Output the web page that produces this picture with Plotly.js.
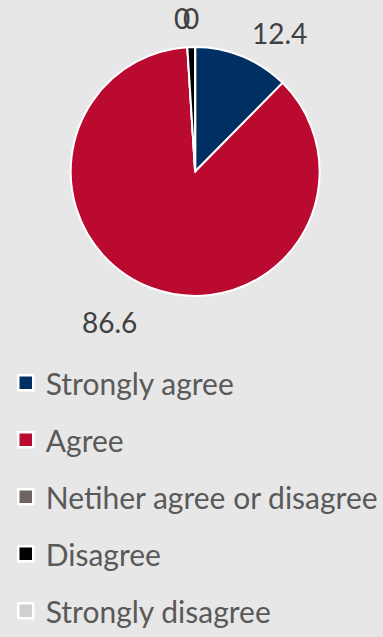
<!DOCTYPE html>
<html><head><meta charset="utf-8">
<script src="https://cdn.plot.ly/plotly-3.0.1.min.js"></script>
<style>html,body{margin:0;padding:0;background:#e7e7e7;}#c{width:383px;height:637px;}</style>
</head><body><div id="c"></div>
<script>
const categories = ["Strongly agree", "Agree", "Netiher agree or disagree", "Disagree", "Strongly disagree"];
const values = [12.4, 86.6, 0, 1, 0];
const labelText = ["12.4", "86.6", "0", "", "0"];
const colors = ["#003063", "#bb0a30", "#706462", "#000000", "#d2d0cf"];
// label anchor positions (paper coords) for data labels
const labelPos = [[0.731, 0.948], [0.287, 0.493], [0.476, 0.971], [null, null], [0.499, 0.971]];

const font = "Lato, 'Open Sans', sans-serif";
const traces = [{
  type: "pie",
  labels: categories,
  values: values,
  sort: false,
  direction: "clockwise",
  rotation: 0,
  marker: {colors: colors, line: {color: "#ffffff", width: 2}},
  textinfo: "none",
  hoverinfo: "label+value",
  showlegend: false,
  domain: {x: [0.183, 0.836], y: [0.534, 0.926]}
}];
categories.forEach((c, i) => {
  traces.push({
    type: "scatter", mode: "markers", x: [null], y: [null],
    name: c, legendgroup: "g" + i, showlegend: true,
    marker: {symbol: "square", size: 15, color: colors[i], line: {color: "#ffffff", width: 2.5}}
  });
});
const annotations = [];
labelText.forEach((t, i) => {
  if (t === "" || labelPos[i][0] === null) return;
  annotations.push({text: t, x: labelPos[i][0], y: labelPos[i][1], xref: "paper", yref: "paper",
    xanchor: "center", yanchor: "middle",
    showarrow: false, font: {family: font, size: 28, color: "#404040"}});
});
const layout = {
  width: 383, height: 637,
  margin: {l: 0, r: 0, t: 0, b: 0},
  paper_bgcolor: "#e7e7e7", plot_bgcolor: "#e7e7e7",
  xaxis: {visible: false}, yaxis: {visible: false},
  showlegend: true,
  legend: {x: 0.015, y: 0.438, xanchor: "left", yanchor: "top", tracegroupgap: 15,
    font: {family: font, size: 30, color: "#595959"}, itemwidth: 30, bgcolor: "rgba(0,0,0,0)"},
  annotations: annotations
};
Plotly.newPlot("c", traces, layout, {displayModeBar: false, staticPlot: true});
</script></body></html>
